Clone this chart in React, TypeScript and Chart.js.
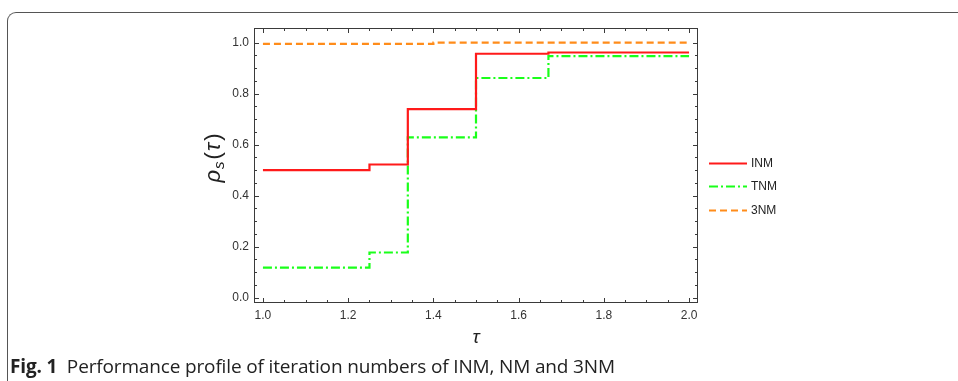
import React, { useEffect, useRef } from "react";
import { Chart, registerables } from "chart.js";

Chart.register(...registerables);

// ---- data ----
const tauINM = [1.0, 1.25, 1.34, 1.5, 1.67, 2.0];
const rhoINM = [0.5, 0.522, 0.739, 0.956, 0.961, 0.961];
const tauTNM = [1.0, 1.25, 1.34, 1.5, 1.67, 2.0];
const rhoTNM = [0.118, 0.177, 0.628, 0.861, 0.947, 0.947];
const tau3NM = [1.0, 1.4, 2.0];
const rho3NM = [0.995, 1.0, 1.0];
const seriesNames = ["INM", "TNM", "3NM"];
const xTickLabels = [1.0, 1.2, 1.4, 1.6, 1.8, 2.0];
const yTickLabels = [0.0, 0.2, 0.4, 0.6, 0.8, 1.0];

const toPts = (xs: number[], ys: number[]) => xs.map((x, i) => ({ x, y: ys[i] }));

const FONT = "'Liberation Sans', Arial, sans-serif";

const decorPlugin = {
  id: "decor",
  afterDraw(chart: any) {
    const { ctx, chartArea: ca, scales } = chart;
    const xs = scales.x;
    const ys = scales.y;
    ctx.save();
    // frame
    ctx.strokeStyle = "#3a3a3a";
    ctx.lineWidth = 1;
    ctx.strokeRect(ca.left + 0.5, ca.top + 0.5, ca.right - ca.left - 1, ca.bottom - ca.top - 1);
    // inward ticks
    const drawTicksX = (v: number, len: number) => {
      const px = Math.round(xs.getPixelForValue(v)) + 0.5;
      ctx.beginPath();
      ctx.moveTo(px, ca.bottom);
      ctx.lineTo(px, ca.bottom - len);
      ctx.moveTo(px, ca.top);
      ctx.lineTo(px, ca.top + len);
      ctx.stroke();
    };
    const drawTicksY = (v: number, len: number) => {
      const py = Math.round(ys.getPixelForValue(v)) + 0.5;
      ctx.beginPath();
      ctx.moveTo(ca.left, py);
      ctx.lineTo(ca.left + len, py);
      ctx.moveTo(ca.right, py);
      ctx.lineTo(ca.right - len, py);
      ctx.stroke();
    };
    for (let i = 0; i <= 20; i++) {
      const v = 1.0 + i * 0.05;
      drawTicksX(v, i % 4 === 0 ? 5 : 3);
    }
    for (let i = 0; i <= 20; i++) {
      const v = i * 0.05;
      drawTicksY(v, i % 4 === 0 ? 5 : 3);
    }
    // legend
    const legY = [163, 186, 210];
    chart.data.datasets.forEach((ds: any, i: number) => {
      const y = legY[i] + 0.5;
      ctx.save();
      ctx.strokeStyle = ds.borderColor;
      ctx.lineWidth = ds.borderWidth;
      ctx.setLineDash(ds.borderDash || []);
      ctx.beginPath();
      ctx.moveTo(ca.right + 11, y);
      ctx.lineTo(ca.right + 49, y);
      ctx.stroke();
      ctx.restore();
      ctx.fillStyle = "#222";
      ctx.font = `12px ${FONT}`;
      ctx.textBaseline = "middle";
      ctx.textAlign = "left";
      ctx.fillText(ds.label, ca.right + 53, y);
    });
    // x title
    ctx.fillStyle = "#222";
    ctx.font = `italic 19px ${FONT}`;
    ctx.textAlign = "center";
    ctx.textBaseline = "alphabetic";
    ctx.fillText("\u03C4", (ca.left + ca.right) / 2, 343);
    // y title
    ctx.save();
    ctx.translate(220, 158);
    ctx.rotate(-Math.PI / 2);
    const parts = [
      { t: "\u03C1", f: `italic 22px ${FONT}`, dy: 0, gap: 1 },
      { t: "s", f: `italic 15px ${FONT}`, dy: 4, gap: 2 },
      { t: "(", f: `22px ${FONT}`, dy: 0, gap: 1 },
      { t: "\u03C4", f: `italic 22px ${FONT}`, dy: 0, gap: 2 },
      { t: ")", f: `22px ${FONT}`, dy: 0, gap: 0 },
    ];
    let total = 0;
    const widths = parts.map((p) => {
      ctx.font = p.f;
      const w = ctx.measureText(p.t).width + p.gap;
      total += w;
      return w;
    });
    let x = -total / 2;
    ctx.textAlign = "left";
    parts.forEach((p, i) => {
      ctx.font = p.f;
      ctx.fillText(p.t, x, p.dy);
      x += widths[i];
    });
    ctx.restore();
    ctx.restore();
  },
};

export default function App() {
  const ref = useRef<HTMLCanvasElement | null>(null);
  useEffect(() => {
    if (!ref.current) return;
    const chart = new Chart(ref.current, {
      type: "line",
      data: {
        datasets: [
          {
            label: seriesNames[0],
            data: toPts(tauINM, rhoINM),
            borderColor: "#ff1a1a",
            borderWidth: 2.2,
            stepped: "before",
            pointRadius: 0,
            fill: false,
          },
          {
            label: seriesNames[1],
            data: toPts(tauTNM, rhoTNM),
            borderColor: "#1aff1a",
            borderWidth: 2.2,
            borderDash: [9, 3, 2, 3],
            stepped: "before",
            pointRadius: 0,
            fill: false,
          },
          {
            label: seriesNames[2],
            data: toPts(tau3NM, rho3NM),
            borderColor: "#ff8c1a",
            borderWidth: 2.2,
            borderDash: [7, 4],
            stepped: "before",
            pointRadius: 0,
            fill: false,
          },
        ] as any,
      },
      options: {
        animation: false,
        responsive: false,
        devicePixelRatio: 1,
        layout: { padding: { left: 200, top: 28, right: 260, bottom: 48 } },
        plugins: { legend: { display: false }, tooltip: { enabled: false } },
        scales: {
          x: {
            type: "linear",
            min: 0.979,
            max: 2.021,
            afterBuildTicks: (s: any) => {
              s.ticks = xTickLabels.map((v) => ({ value: v }));
            },
            afterFit: (s: any) => {
              s.height = 30;
            },
            grid: { display: false, drawTicks: false },
            border: { display: false },
            ticks: {
              padding: 5,
              color: "#333",
              font: { family: FONT, size: 12 },
              callback: (v: any) => Number(v).toFixed(1),
            },
          },
          y: {
            type: "linear",
            min: -0.021,
            max: 1.057,
            afterBuildTicks: (s: any) => {
              s.ticks = yTickLabels.map((v) => ({ value: v }));
            },
            afterFit: (s: any) => {
              s.width = 54;
            },
            grid: { display: false, drawTicks: false },
            border: { display: false },
            ticks: {
              padding: 5,
              color: "#333",
              font: { family: FONT, size: 12 },
              callback: (v: any) => Number(v).toFixed(1),
            },
          },
        },
      },
      plugins: [decorPlugin],
    });
    return () => chart.destroy();
  }, []);

  return (
    <div style={{ position: "absolute", left: 0, top: 0, width: 958, height: 381, overflow: "hidden", background: "#fff" }}>
      <div
        style={{
          position: "absolute",
          left: 7,
          top: 12,
          width: 1000,
          height: 400,
          borderTop: "1px solid #555",
          borderLeft: "1px solid #555",
          borderTopLeftRadius: 9,
        }}
      />
      <canvas ref={ref} width={958} height={381} style={{ position: "absolute", left: 0, top: 0, width: 958, height: 381 }} />
      <div
        style={{
          position: "absolute",
          left: 10,
          top: 353,
          fontFamily: "'Open Sans', 'Noto Sans', sans-serif",
          fontSize: 19,
          lineHeight: "26px",
          color: "#222",
          whiteSpace: "nowrap",
          letterSpacing: -0.15,
        }}
      >
        <b>Fig. 1</b>&nbsp;&nbsp;Performance profile of iteration numbers of INM, NM and 3NM
      </div>
    </div>
  );
}
